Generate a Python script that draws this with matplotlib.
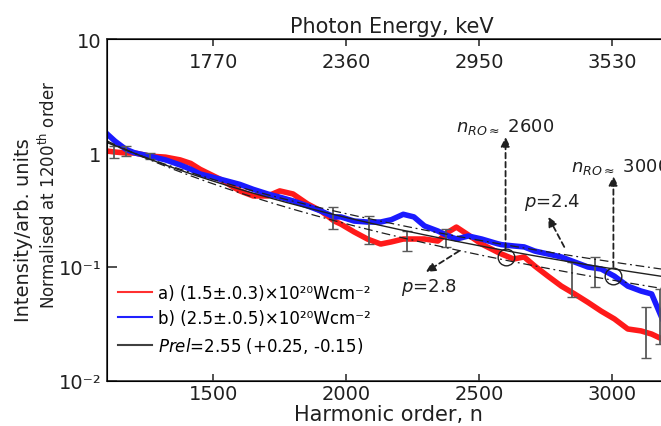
import numpy as np
import matplotlib
matplotlib.use("Agg")
import matplotlib.pyplot as plt
from matplotlib.lines import Line2D
from matplotlib.ticker import FixedLocator, FixedFormatter, NullLocator

plt.rcParams['font.family'] = ['DejaVu Sans']
plt.rcParams['mathtext.fontset'] = 'dejavusans'

# harmonic order sample points
harmonic_n = [1100, 1130, 1170, 1205, 1260, 1320, 1375, 1415, 1450, 1525,
              1600, 1650, 1705, 1750, 1800, 1855, 1905, 1955, 1980, 2030,
              2080, 2130, 2170, 2215, 2255, 2295, 2345, 2385, 2415, 2460,
              2510, 2570, 2585, 2630, 2670, 2710, 2760, 2810, 2860, 2910,
              2960, 3010, 3060, 3110, 3150, 3190, 3220]
red_intensity = [1.04, 1.02, 1.0, 1.0, 0.94, 0.92, 0.87, 0.81, 0.72, 0.59,
                 0.465, 0.42, 0.42, 0.465, 0.437, 0.357, 0.31, 0.253, 0.238, 0.203,
                 0.176, 0.159, 0.166, 0.176, 0.176, 0.176, 0.169, 0.203, 0.224, 0.191,
                 0.159, 0.135, 0.130, 0.1175, 0.1225, 0.102, 0.083, 0.068, 0.058, 0.049,
                 0.041, 0.035, 0.0286, 0.0275, 0.0258, 0.0233, 0.022]
blue_intensity = [1.47, 1.27, 1.08, 1.0, 0.94, 0.87, 0.785, 0.72, 0.655, 0.59,
                  0.53, 0.48, 0.437, 0.41, 0.38, 0.343, 0.31, 0.275, 0.275, 0.253,
                  0.248, 0.248, 0.26, 0.29, 0.275, 0.229, 0.207, 0.187, 0.176, 0.187,
                  0.176, 0.16, 0.157, 0.153, 0.150, 0.138, 0.130, 0.1225, 0.1106, 0.10,
                  0.096, 0.083, 0.068, 0.0615, 0.058, 0.035, 0.03]

# error bars (n, low, high)
red_err_n = [1125, 1950, 2230, 2850, 3130]
red_err_lo = [0.90, 0.215, 0.138, 0.055, 0.016]
red_err_hi = [1.15, 0.335, 0.207, 0.11, 0.045]
blue_err_n = [1170, 1260, 2085, 2375, 2935, 3180]
blue_err_lo = [0.95, 0.88, 0.16, 0.15, 0.067, 0.021]
blue_err_hi = [1.15, 1.0, 0.28, 0.215, 0.122, 0.064]

# power law fits, normalised at 1200th order
p_rel = 2.55
p_hi = 2.4
p_lo = 2.8
n_norm = 1200

# roll-over points
n_ro = [2600, 3006]
ro_val = [0.1225, 0.083]

bottom_ticks = [1500, 2000, 2500, 3000]
top_labels = ['1770', '2360', '2950', '3530']
y_ticks = [0.01, 0.1, 1, 10]
y_labels = ['10\u207b\u00b2', '10\u207b\u00b9', '1', '10']


def power_law(n, p):
    return (np.asarray(n, dtype=float) / n_norm) ** (-p)


def main():
    fig = plt.figure(figsize=(6.61, 4.27), dpi=100)
    ax = fig.add_axes([0.162, 0.1054, 0.852, 0.8009])

    ax.plot(harmonic_n, red_intensity, color='#ff1a1a', lw=4, zorder=2)
    ax.plot(harmonic_n, blue_intensity, color='#1a1aff', lw=4, zorder=3)

    # error bars: grey bars with coloured caps
    for n, lo, hi, c in [(red_err_n, red_err_lo, red_err_hi, 'red'),
                         (blue_err_n, blue_err_lo, blue_err_hi, 'blue')]:
        mid = np.sqrt(np.array(lo) * np.array(hi))
        err = [mid - np.array(lo), np.array(hi) - mid]
        _, caps, _ = ax.errorbar(n, mid, yerr=err, fmt='none', ecolor='0.35',
                                 elinewidth=1.3, capsize=3.5, zorder=4)
        for cl in caps:
            cl.set_color(c)

    nn = np.linspace(1100, 3220, 200)
    ax.plot(nn, power_law(nn, p_rel), color='#202020', lw=1.0, zorder=5)
    ax.plot(nn, power_law(nn, p_hi), color='#202020', lw=0.9, dashes=(7, 3, 1.5, 3), zorder=5)
    ax.plot(nn, power_law(nn, p_lo), color='#202020', lw=0.9, dashes=(7, 3, 1.5, 3), zorder=5)

    ax.plot(n_ro, ro_val, 'o', ms=12, mfc='none', mec='#202020', mew=1.0, zorder=6)

    arrow = dict(arrowstyle='-|>', color='#202020', lw=1.3, ls=(0, (3, 2)),
                 mutation_scale=14, shrinkA=0, shrinkB=0)
    ax.annotate('', xy=(2600, 1.38), xytext=(2600, 0.145), arrowprops=arrow, zorder=7)
    ax.annotate('', xy=(3006, 0.628), xytext=(3006, 0.1), arrowprops=arrow, zorder=7)
    ax.annotate('', xy=(2761, 0.275), xytext=(2821, 0.15), arrowprops=arrow, zorder=7)
    ax.annotate('', xy=(2300, 0.0904), xytext=(2425, 0.138), arrowprops=arrow, zorder=7)

    ax.text(2600, 1.73, r'$n_{RO\approx}$ 2600', fontsize=13, ha='center', va='center', color='#202020')
    ax.text(2847, 0.77, r'$n_{RO\approx}$ 3000', fontsize=13, ha='left', va='center',
            color='#202020', clip_on=False)
    ax.text(2776, 0.372, r'$p$=2.4', fontsize=13, ha='center', va='center', color='#202020')
    ax.text(2311, 0.0668, r'$p$=2.8', fontsize=13, ha='center', va='center', color='#202020')

    ax.set_yscale('log')
    ax.set_xlim(1100, 3220)
    ax.set_ylim(1e-2, 10)
    ax.yaxis.set_major_locator(FixedLocator(y_ticks))
    ax.yaxis.set_major_formatter(FixedFormatter(y_labels))
    ax.yaxis.set_minor_locator(NullLocator())
    ax.set_xticks(bottom_ticks)
    ax.tick_params(axis='both', direction='in', labelsize=14, colors='#202020')
    ax.tick_params(axis='y', length=7, width=1.1, pad=4)
    ax.tick_params(axis='x', length=5, width=1.1, pad=2)
    for s in ax.spines.values():
        s.set_linewidth(1.2)
        s.set_color('#303030')

    ax.set_xlabel('Harmonic order, n', fontsize=15, labelpad=1, color='#202020')

    # photon energy axis on top, labels sit inside the frame
    top = ax.twiny()
    top.set_xlim(ax.get_xlim())
    top.set_xticks(bottom_ticks)
    top.set_xticklabels(top_labels)
    top.tick_params(axis='x', direction='in', length=5, width=1.1, labelsize=14,
                    pad=-9, colors='#202020')
    for lab in top.get_xticklabels():
        lab.set_va('top')
    top.set_xlabel('Photon Energy, keV', fontsize=15, color='#202020')
    top.xaxis.set_label_coords(0.505, 1.02)

    fig.text(0.035, 0.46, 'Intensity/arb. units', rotation=90, fontsize=14,
             ha='center', va='center', color='#202020')
    fig.text(0.073, 0.545, 'Normalised at 1200$^{\\mathrm{th}}$ order', rotation=90,
             fontsize=12, ha='center', va='center', color='#202020')

    handles = [Line2D([], [], color='#ff3030', lw=1.5),
               Line2D([], [], color='#2020ff', lw=1.5),
               Line2D([], [], color='#404040', lw=1.5)]
    labels = ['a) (1.5\u00b1.0.3)\u00d710\u00b2\u2070Wcm\u207b\u00b2',
              'b) (2.5\u00b1.0.5)\u00d710\u00b2\u2070Wcm\u207b\u00b2',
              r'$Prel$=2.55 (+0.25, -0.15)']
    ax.legend(handles, labels, loc='upper left', bbox_to_anchor=(0.02, 0.285),
              frameon=False, fontsize=12, borderpad=0, borderaxespad=0,
              handlelength=2.0, handletextpad=0.35, labelspacing=0.45)

    fig.savefig('out.png', dpi=100)


if __name__ == "__main__":
    main()
